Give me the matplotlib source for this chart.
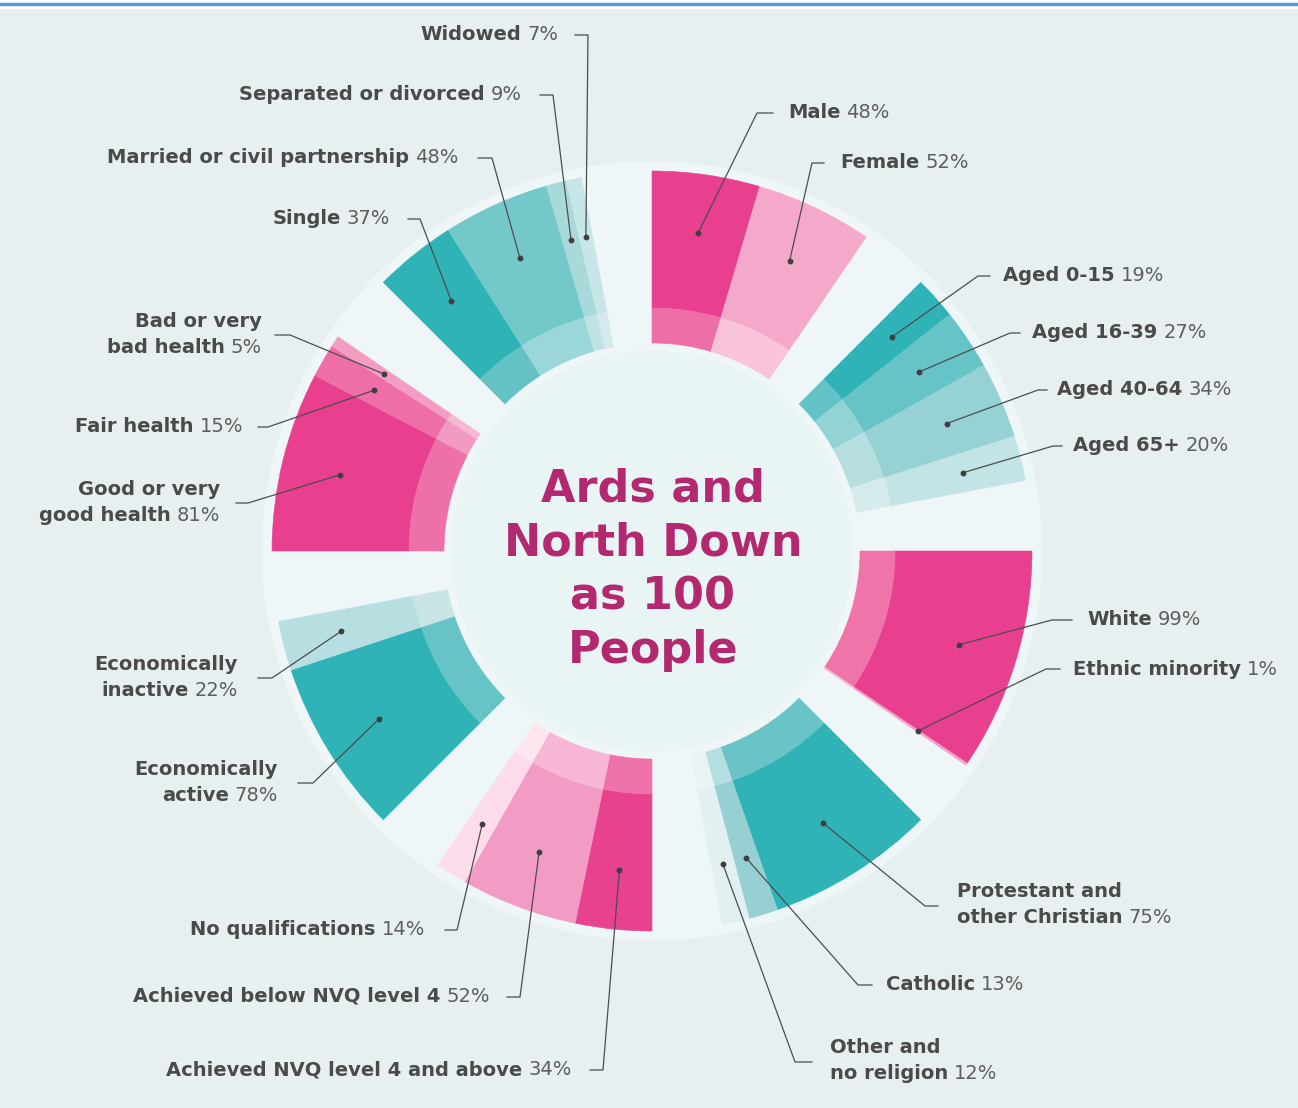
import numpy as np
import matplotlib
matplotlib.use('Agg')
import matplotlib.pyplot as plt

# ---- data: Ards and North Down as 100 people -------------------------
gender_labels = ['Male', 'Female']
gender_pct = [48, 52]

age_labels = ['Aged 0-15', 'Aged 16-39', 'Aged 40-64', 'Aged 65+']
age_pct = [19, 27, 34, 20]

ethnic_labels = ['White', 'Ethnic minority']
ethnic_pct = [99, 1]

religion_labels = ['Protestant and\nother Christian', 'Catholic', 'Other and\nno religion']
religion_pct = [75, 13, 12]

qual_labels = ['Achieved NVQ level 4 and above', 'Achieved below NVQ level 4',
               'No qualifications']
qual_pct = [34, 52, 14]

econ_labels = ['Economically\nactive', 'Economically\ninactive']
econ_pct = [78, 22]

health_labels = ['Good or very\ngood health', 'Fair health', 'Bad or very\nbad health']
health_pct = [81, 15, 5]

marital_labels = ['Single', 'Married or civil partnership', 'Separated or divorced', 'Widowed']
marital_pct = [37, 48, 9, 7]

title_lines = ['Ards and', 'North Down', 'as 100', 'People']

# ---- colours (outer band, inner band) per slice --------------------------
gender_col = [('#e8408e', '#ee6fa8'), ('#f5a9ca', '#f8c3db')]
age_col = [('#30b3b7', '#62c2c5'), ('#66c3c6', '#94d3d5'),
           ('#96d2d4', '#b7dfe0'), ('#c2e4e5', '#d6ebec')]
ethnic_col = [('#e8408e', '#ef74aa'), ('#f5a3c7', '#f7bdd6')]
religion_col = [('#2fb3b7', '#6ac4c7'), ('#96d0d3', '#b5dee0'), ('#e3f0f1', '#e8f3f4')]
qual_col = [('#e8418e', '#ef72aa'), ('#f29bc4', '#f6b6d4'), ('#fcdcea', '#fde6f0')]
econ_col = [('#2fb3b7', '#66c3c6'), ('#b7dee0', '#c9e5e6')]
health_col = [('#e8408e', '#ee70a8'), ('#ee6fa7', '#f29bc2'), ('#f39dc3', '#f6b8d4')]
marital_col = [('#2fb3b7', '#64c2c5'), ('#73c8ca', '#9bd6d8'),
               ('#a8dadc', '#bfe2e3'), ('#c6e6e7', '#d3ebec')]

# ---- label layout in pixels: text x, text y, elbow x, elbow y, tick x, side
gender_pos = [(788, 113, 757, 113, 773, 'r'), (840, 163, 812, 163, 824, 'r')]
age_pos = [(1003, 276, 978, 276, 990, 'r'), (1032, 333, 1010, 333, 1020, 'r'),
           (1057, 390, 1038, 390, 1047, 'r'), (1073, 446, 1053, 446, 1062, 'r')]
ethnic_pos = [(1087, 620, 1052, 620, 1072, 'r'), (1073, 670, 1046, 669, 1060, 'r')]
religion_pos = [(957, 892, 925, 906, 938, 'r'), (886, 985, 858, 985, 872, 'r'),
                (830, 1048, 795, 1062, 812, 'r')]
qual_pos = [(572, 1070, 603, 1070, 590, 'l'), (490, 997, 520, 997, 507, 'l'),
            (425, 930, 457, 930, 445, 'l')]
econ_pos = [(278, 770, 313, 783, 298, 'l'), (238, 665, 272, 678, 258, 'l')]
health_pos = [(220, 490, 248, 503, 236, 'l'), (243, 427, 268, 427, 258, 'l'),
              (262, 322, 290, 335, 275, 'l')]
marital_pos = [(390, 219, 420, 219, 408, 'l'), (458, 158, 492, 158, 478, 'l'),
               (522, 95, 553, 95, 540, 'l'), (558, 35, 588, 35, 575, 'l')]

# clockwise from twelve o'clock, one segment every 45 degrees
segments = [
    (gender_labels, gender_pct, gender_col, gender_pos),
    (age_labels, age_pct, age_col, age_pos),
    (ethnic_labels, ethnic_pct, ethnic_col, ethnic_pos),
    (religion_labels, religion_pct, religion_col, religion_pos),
    (qual_labels, qual_pct, qual_col, qual_pos),
    (econ_labels, econ_pct, econ_col, econ_pos),
    (health_labels, health_pct, health_col, health_pos),
    (marital_labels, marital_pct, marital_col, marital_pos),
]

W, H = 1298, 1108
CX, CY = 652, 551
R_HOLE, R_IN, R_MID, R_OUT, R_RING, R_DOT = 200, 208, 243, 380, 390, 321
SPAN = 34.3          # degrees used by each segment
FS = 14
LINE_GAP = 26
TXT = '#4a4a4a'
TXT2 = '#5e5e5e'
LEAD = '#4d4d4d'

plt.rcParams['font.family'] = ['DejaVu Sans']

fig = plt.figure(figsize=(W / 100, H / 100), dpi=100)
fig.patch.set_facecolor('#e7eff0')

bg = fig.add_axes([0, 0, 1, 1], zorder=0)
bg.set_xlim(0, W)
bg.set_ylim(H, 0)
bg.axis('off')
bg.axhspan(0, 9, color='white', lw=0)
bg.axhline(4, color='#5b9bd5', lw=2.5)

R = R_RING + 4
ax = fig.add_axes([(CX - R) / W, (H - CY - R) / H, 2 * R / W, 2 * R / H],
                  projection='polar', zorder=1)
ax.set_theta_zero_location('N')
ax.set_theta_direction(-1)
ax.set_ylim(0, R)
ax.axis('off')
ax.patch.set_alpha(0)

# pale ring behind the segments and the centre disc
ax.bar(0, R_RING - R_HOLE, width=2 * np.pi, bottom=R_HOLE, align='edge',
       color='#eff6f7', lw=0)
ax.bar(0, R_HOLE, width=2 * np.pi, bottom=0, align='edge', color='#e9f4f5', lw=0)

ov = fig.add_axes([0, 0, 1, 1], zorder=2)
ov.set_xlim(0, W)
ov.set_ylim(H, 0)
ov.axis('off')
ov.patch.set_alpha(0)

renderer = fig.canvas.get_renderer()


def draw_label(name, pct, tx, ty, side):
    lines = name.split('\n')
    for k, line in enumerate(lines):
        yb = ty + k * LINE_GAP + 5
        last = k == len(lines) - 1
        if side == 'r':
            t = ov.text(tx, yb, line, ha='left', va='baseline', fontsize=FS,
                        fontweight='bold', color=TXT)
            if last:
                w = t.get_window_extent(renderer=renderer).width
                ov.text(tx + w + 6, yb, f'{pct}%', ha='left', va='baseline',
                        fontsize=FS, color=TXT2)
        else:
            if last:
                t = ov.text(tx, yb, f'{pct}%', ha='right', va='baseline',
                            fontsize=FS, color=TXT2)
                w = t.get_window_extent(renderer=renderer).width
                ov.text(tx - w - 6, yb, line, ha='right', va='baseline',
                        fontsize=FS, fontweight='bold', color=TXT)
            else:
                ov.text(tx, yb, line, ha='right', va='baseline', fontsize=FS,
                        fontweight='bold', color=TXT)


for i, (labels, pct, cols, pos) in enumerate(segments):
    start = np.deg2rad(45 * i)
    total = float(sum(pct))
    cum = 0.0
    for lab, p, (c_out, c_in), lp in zip(labels, pct, cols, pos):
        th0 = start + np.deg2rad(SPAN) * cum / total
        w = np.deg2rad(SPAN) * p / total
        cum += p
        ax.bar(th0, R_OUT - R_MID, width=w, bottom=R_MID, align='edge',
               color=c_out, edgecolor=c_out, lw=0.4)
        ax.bar(th0, R_MID - R_IN, width=w, bottom=R_IN, align='edge',
               color=c_in, edgecolor=c_in, lw=0.4)

        # leader line from the middle of the slice to the label
        dx, dy = ax.transData.transform((th0 + w / 2, R_DOT))
        dy = H - dy
        tx, ty, ex, ey, kx, side = lp
        ov.plot([dx, ex, kx], [dy, ey, ey], color=LEAD, lw=0.9)
        ov.plot(dx, dy, 'o', ms=3.2, color='#3f3f3f')
        draw_label(lab, p, tx, ty, side)

for k, s in enumerate(title_lines):
    ov.text(CX + 1, 502 + 53.5 * k, s, ha='center', va='baseline', fontsize=32,
            fontweight='bold', color='#b3296f')

fig.savefig('out.png', dpi=100, facecolor=fig.get_facecolor())
